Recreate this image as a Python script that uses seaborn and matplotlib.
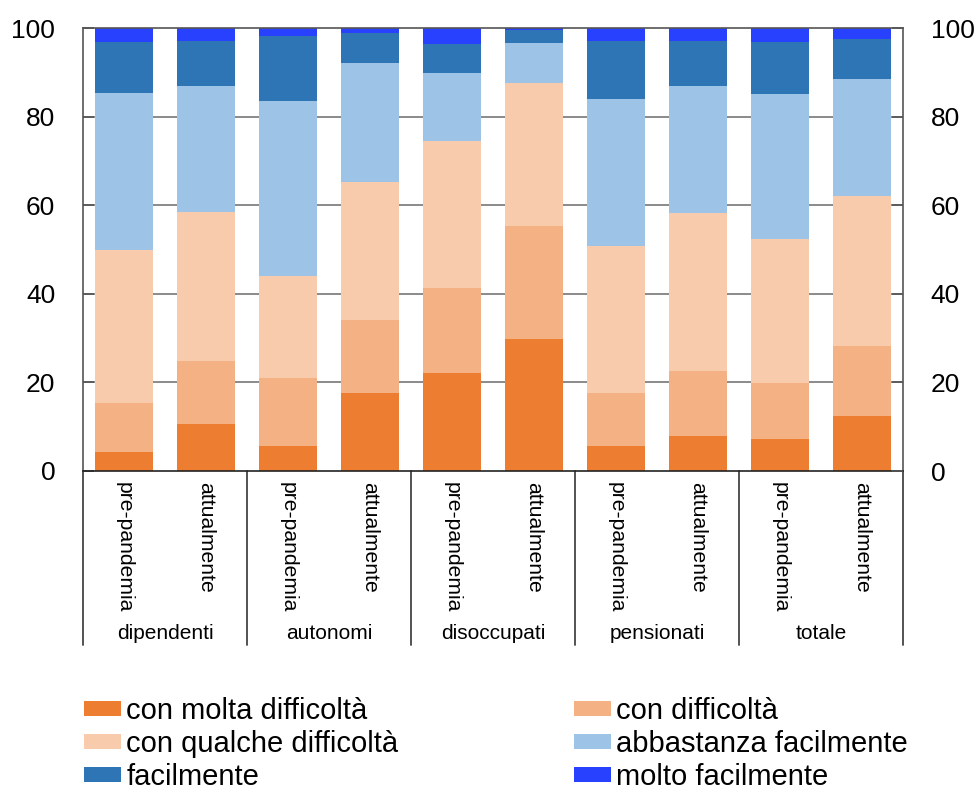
import numpy as np
import pandas as pd
import matplotlib
matplotlib.use("Agg")
import matplotlib.pyplot as plt
from matplotlib.patches import Patch
from matplotlib.transforms import blended_transform_factory
import seaborn as sns

# Categories
groups = ["dipendenti", "autonomi", "disoccupati", "pensionati", "totale"]
periods = ["pre-pandemia", "attualmente"]

# Shares (%) by answer, one value per bar (group x period)
molta_difficolta = [4.4, 10.6, 5.6, 17.5, 22.1, 29.7, 5.6, 8.0, 7.2, 12.4]
con_difficolta = [10.9, 14.3, 15.3, 16.6, 19.1, 25.7, 11.9, 14.6, 12.7, 15.9]
qualche_difficolta = [34.7, 33.6, 23.1, 31.1, 33.2, 32.1, 33.4, 35.6, 32.5, 33.8]
abbastanza_facilmente = [35.3, 28.5, 39.6, 26.8, 15.5, 9.2, 33.1, 28.8, 32.7, 26.5]
facilmente = [11.6, 10.1, 14.7, 6.9, 6.6, 2.8, 13.1, 10.1, 11.8, 8.9]
molto_facilmente = [3.1, 2.9, 1.7, 1.1, 3.5, 0.5, 2.9, 2.9, 3.1, 2.5]

series_names = ["con molta difficoltà", "con difficoltà", "con qualche difficoltà",
                "abbastanza facilmente", "facilmente", "molto facilmente"]
series_values = [molta_difficolta, con_difficolta, qualche_difficolta,
                 abbastanza_facilmente, facilmente, molto_facilmente]
colors = ["#ED7D31", "#F4B183", "#F8CBAD", "#9DC3E6", "#2E75B6", "#2741FF"]

sns.set_style("white")
plt.rcParams["font.family"] = ["Liberation Sans", "DejaVu Sans"]
plt.rcParams["text.color"] = "black"
plt.rcParams["xtick.color"] = "black"
plt.rcParams["ytick.color"] = "black"

bar_ids = [f"{g}|{p}" for g in groups for p in periods]
df = pd.DataFrame({"bar": bar_ids})
cum = np.zeros(len(bar_ids))
for name, vals in zip(series_names, series_values):
    cum = cum + np.array(vals)
    df[name] = cum

fig = plt.figure(figsize=(9.8, 7.89), dpi=100)
ax = fig.add_axes([83 / 980, 1 - 471 / 789, 820 / 980, 443 / 789])

# stacked bars: draw cumulative totals from the top layer down
for name, col in reversed(list(zip(series_names, colors))):
    sns.barplot(data=df, x="bar", y=name, order=bar_ids, color=col,
                saturation=1, width=0.71, errorbar=None, ax=ax,
                edgecolor="none", linewidth=0, zorder=2)

ax.set_xlim(-0.5, len(bar_ids) - 0.5)
ax.set_ylim(0, 100)
ax.set_xlabel("")
ax.set_ylabel("")
yt = [0, 20, 40, 60, 80, 100]
ax.set_yticks(yt)
ax.set_yticklabels([str(v) for v in yt], fontsize=19)
ax.tick_params(axis="y", direction="in", length=8, width=1.2, color="#555555",
               labelcolor="black", pad=20)
ax.set_xticks(range(len(bar_ids)))
ax.set_xticklabels([p for g in groups for p in periods], rotation=270,
                   fontsize=15.2, va="top", ha="center")
ax.tick_params(axis="x", length=0, pad=8, labelcolor="black")

ax.set_axisbelow(True)
for v in [20, 40, 60, 80]:
    ax.axhline(v, color="#8a8a8a", lw=1.4, zorder=0)

for side in ["left", "right", "top", "bottom"]:
    ax.spines[side].set_visible(True)
    ax.spines[side].set_linewidth(1.2)
    ax.spines[side].set_color("#555555")
ax.spines["bottom"].set_color("#222222")

ax2 = ax.twinx()
ax2.set_ylim(0, 100)
ax2.set_yticks(yt)
ax2.set_yticklabels([str(v) for v in yt], fontsize=19)
ax2.tick_params(axis="y", direction="in", length=8, width=1.2, color="#555555",
                labelcolor="black", pad=20)
for side in ["left", "right", "top", "bottom"]:
    ax2.spines[side].set_visible(False)

# group separators and group names under the axis
trans = blended_transform_factory(ax.transData, ax.transAxes)
for k in range(len(groups) + 1):
    xs = -0.5 + 2 * k
    ax.plot([xs, xs], [0, -0.393], transform=trans, color="#444444",
            lw=1.3, clip_on=False)
for k, g in enumerate(groups):
    ax.text(2 * k + 0.5, -0.366, g, transform=trans, ha="center", va="center",
            fontsize=15, color="black")

# legend in two columns
handles = [Patch(facecolor=c, edgecolor="none") for c in colors]
legend_kw = dict(frameon=False, fontsize=21, handlelength=1.28, handleheight=0.45,
                 handletextpad=0.17, labelspacing=0.17, borderpad=0,
                 borderaxespad=0, loc="upper left")
fig.legend([handles[i] for i in (0, 2, 4)], [series_names[i] for i in (0, 2, 4)],
           bbox_to_anchor=(84 / 980, 1 - 697 / 789), **legend_kw)
fig.legend([handles[i] for i in (1, 3, 5)], [series_names[i] for i in (1, 3, 5)],
           bbox_to_anchor=(574 / 980, 1 - 697 / 789), **legend_kw)

fig.savefig("out.png", dpi=100)
